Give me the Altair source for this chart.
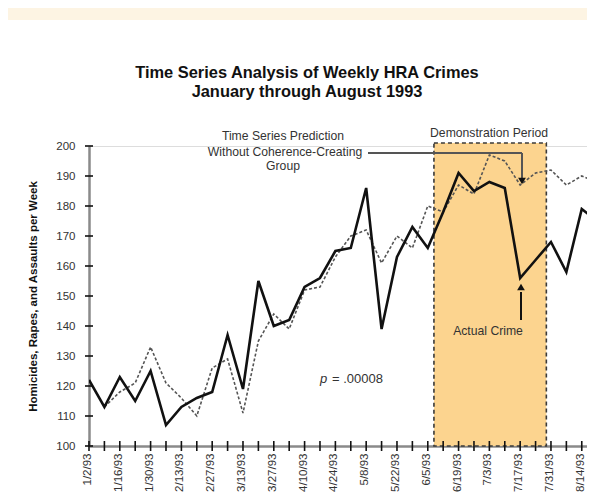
import json
import altair as alt
import pandas as pd

# ---- data ----
week_labels = ["1/2/93", "1/16/93", "1/30/93", "2/13/93", "2/27/93", "3/13/93",
               "3/27/93", "4/10/93", "4/24/93", "5/8/93", "5/22/93", "6/5/93",
               "6/19/93", "7/3/93", "7/17/93", "7/31/93", "8/14/93"]
weeks = list(range(34))  # week index, 0 = 1/2/93
actual = [122, 113, 123, 115, 125, 107, 113, 116, 118, 137,
          119, 155, 140, 142, 153, 156, 165, 166, 186, 139,
          163, 173, 166, 178, 191, 185, 188, 186, 156, 162,
          168, 158, 179, 175]
predicted = [None, 113, 118, 121, 133, 121, 116, 110, 126, 129,
             111, 135, 144, 139, 152, 153, 163, 170, 172, 161,
             170, 166, 180, 178, 187, 184, 197, 195, 187, 191,
             192, 187, 190, 188]
demo_weeks = [22.4, 29.7]          # June 7 - July 30, 1993
y_ticks = [100, 110, 120, 130, 140, 150, 160, 170, 180, 190, 200]
x_ticks = list(range(33))

FONT = "Liberation Sans"
W, H = 498, 300
x_dom = [0, 32.34]

df_a = pd.DataFrame({"week": weeks, "v": actual})
df_p = pd.DataFrame({"week": weeks, "v": predicted}).dropna()

xs = alt.Scale(domain=x_dom, nice=False, zero=False)
ys = alt.Scale(domain=[100, 200], nice=False, zero=False)

label_arr = json.dumps(week_labels).replace('"', "'")
x_axis = alt.Axis(values=x_ticks, ticks=False, grid=False, domainColor="#8a8a8a",
                  domainWidth=2.5, labelAngle=270, labelPadding=7, labelFontSize=11.5,
                  labelOffset=-1.5,
                  labelColor="#333", labelOverlap=False, labelFlush=False, labelBound=False,
                  labelExpr=f"datum.value % 2 == 0 ? {label_arr}[datum.value / 2] : ''",
                  title=None)
y_axis = alt.Axis(values=y_ticks, ticks=False, grid=False, domainColor="#8a8a8a",
                  domainWidth=2.5, labelPadding=14, labelFontSize=11.5, labelColor="#333",
                  title="Homicides, Rapes, and Assaults per Week", titleFontSize=11.5,
                  titleFontWeight="bold", titleColor="#111", titleAngle=270,
                  titleX=-56, titleY=150, titleAlign="center", titleBaseline="middle")

X = lambda f: alt.X(f, scale=xs, axis=x_axis)
Y = lambda f: alt.Y(f, scale=ys, axis=y_axis)

band = alt.Chart(pd.DataFrame({"a": [0]})).mark_rect(color="#fdf4e3").encode(
    x=alt.value(-81), x2=alt.value(W), y=alt.value(-138), y2=alt.value(-126))

box = alt.Chart(pd.DataFrame({"s": [demo_weeks[0]], "e": [demo_weeks[1]],
                              "t": [201], "b": [100]})).mark_rect(
    fill="#fcd48f", stroke="#3a3a3a", strokeWidth=1.6, strokeDash=[4, 3]).encode(
    x=X("s:Q"), x2="e:Q", y=Y("t:Q"), y2="b:Q")

pred_line = alt.Chart(df_p).mark_line(color="#555", strokeWidth=1.6,
                                      strokeDash=[3, 2], clip=True).encode(
    x=X("week:Q"), y=Y("v:Q"))

act_line = alt.Chart(df_a).mark_line(color="#111", strokeWidth=2.6, clip=True).encode(
    x=X("week:Q"), y=Y("v:Q"))

ytk = alt.Chart(pd.DataFrame({"v": y_ticks})).mark_rule(color="#111", strokeWidth=1.6).encode(
    y=Y("v:Q"), x=alt.value(-4), x2=alt.value(4))
xtk = alt.Chart(pd.DataFrame({"week": x_ticks})).mark_rule(color="#111", strokeWidth=1.6).encode(
    x=X("week:Q"), y=alt.value(H - 5), y2=alt.value(H + 5))

# annotation arrows (pixel positions in the plot area)
arrow_col = "#555"
a1h = alt.Chart(pd.DataFrame({"a": [0]})).mark_rule(color=arrow_col, strokeWidth=2).encode(
    x=alt.value(279), x2=alt.value(433), y=alt.value(7))
a1v = alt.Chart(pd.DataFrame({"a": [0]})).mark_rule(color=arrow_col, strokeWidth=2).encode(
    x=alt.value(433), y=alt.value(7), y2=alt.value(32))
a1t = alt.Chart(pd.DataFrame({"a": [0]})).mark_point(
    shape="triangle-down", filled=True, color="#111", size=60, opacity=1).encode(
    x=alt.value(433), y=alt.value(35))
a2v = alt.Chart(pd.DataFrame({"a": [0]})).mark_rule(color="#111", strokeWidth=2).encode(
    x=alt.value(432), y=alt.value(146), y2=alt.value(174))
a2t = alt.Chart(pd.DataFrame({"a": [0]})).mark_point(
    shape="triangle-up", filled=True, color="#111", size=60, opacity=1).encode(
    x=alt.value(432), y=alt.value(141))


def txt(s, x, y, size=12.2, weight="normal", color="#333", align="center", style="normal"):
    return alt.Chart(pd.DataFrame({"t": [s]})).mark_text(
        font=FONT, fontSize=size, fontWeight=weight, color=color, align=align,
        baseline="middle", fontStyle=style).encode(
        text="t:N", x=alt.value(x), y=alt.value(y))


texts = [
    txt("Time Series Analysis of Weekly HRA Crimes", 218, -73, 16.4, "bold", "#111"),
    txt("January through August 1993", 218, -54, 16.4, "bold", "#111"),
    txt("Time Series Prediction", 194, -10),
    txt("Without Coherence-Creating", 196, 6),
    txt("Group", 194, 20),
    txt("Demonstration Period", 400, -13),
    txt("Actual Crime", 399, 185),
    txt("p", 231, 233, 13, style="italic", align="left"),
    txt("= .00008", 243, 233, 13, align="left"),
]

chart = alt.layer(band, box, pred_line, act_line, ytk, xtk, a1h, a1v, a1t, a2v, a2t,
                  *texts).properties(
    width=W, height=H,
    autosize=alt.AutoSizeParams(type="none"),
    padding={"left": 81, "top": 138, "right": 0, "bottom": 48},
).configure_view(stroke=None).configure(font=FONT)

chart.save("out.html", embed_options={"renderer": "svg", "actions": False})
